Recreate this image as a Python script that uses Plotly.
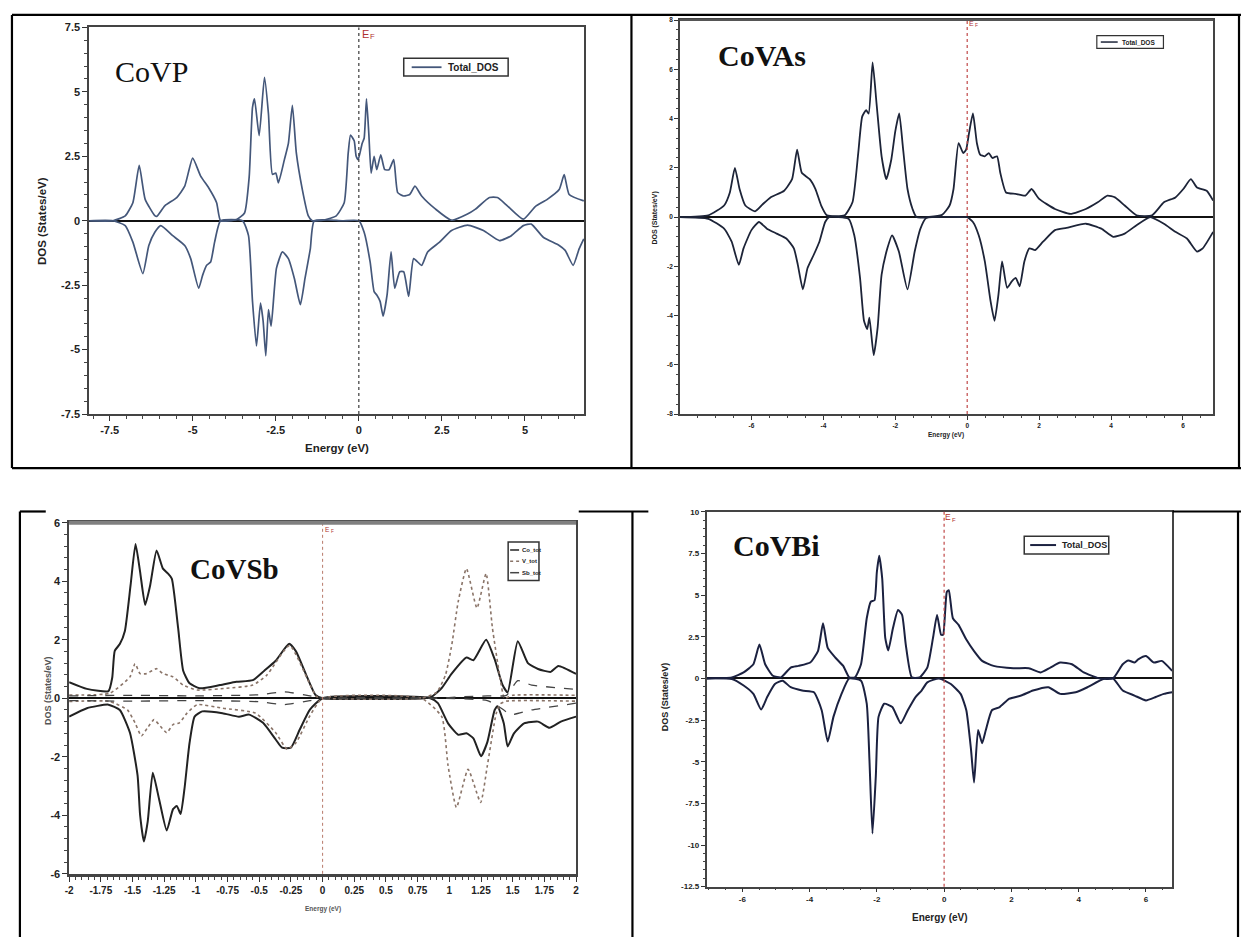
import plotly.graph_objects as go

W, H = 1244, 943

# ---------------- DATA ----------------
# Panel 1: CoVP
P1_UP_E = [-8.11, -7.4, -7.03, -6.8, -6.61, -6.43, -6.14, -6.08, -5.84, -5.48, -5.24, -5.0, -4.76, -4.52, -4.28, -4.16,
           -3.68, -3.44, -3.3, -3.2, -3.14, -3.0, -2.84, -2.72, -2.6, -2.5, -2.42, -2.24, -2.12, -2.0, -1.88, -1.7,
           -1.52, -1.4, -1.04, -0.68, -0.44, -0.32, -0.25, -0.14, -0.08, -0.02, 0.1, 0.16, 0.23, 0.3, 0.37, 0.46,
           0.54, 0.66, 0.78, 0.91, 1.05, 1.17, 1.35, 1.53, 1.69, 1.89, 2.31, 2.79, 3.27, 3.51, 3.93, 4.17, 4.47,
           4.95, 5.31, 5.67, 6.03, 6.18, 6.33, 6.77]
P1_UP_DOS = [0, 0.0, 0.19, 0.7, 2.15, 0.83, 0.2, 0.17, 0.58, 0.9, 1.34, 2.43, 1.73, 1.28, 0.7, 0.0,
             0.05, 0.3, 1.7, 4.4, 4.73, 3.3, 5.56, 4.15, 1.8, 1.85, 1.47, 2.37, 3.0, 4.48, 2.62, 1.21,
             0.19, 0.0, 0.03, 0.19, 0.7, 2.62, 3.32, 3.1, 2.5, 2.37, 3.0, 3.2, 4.73, 3.39, 1.85, 2.5,
             1.98, 2.56, 1.98, 1.98, 2.37, 1.09, 0.96, 1.02, 1.34, 0.96, 0.45, 0.02, 0.26, 0.45, 0.9, 0.9, 0.58,
             0.06, 0.55, 0.83, 1.21, 1.79, 1.02, 0.77]
P1_DN_E = [-8.11, -7.4, -7.03, -6.8, -6.5, -6.32, -6.14, -5.96, -5.6, -5.24, -5.06, -4.82, -4.7, -4.58, -4.46, -4.34,
           -4.16, -3.5, -3.32, -3.2, -3.08, -2.96, -2.88, -2.8, -2.72, -2.64, -2.48, -2.3, -2.12, -1.94, -1.76,
           -1.62, -1.46, -1.34, -0.5, 0.0, 0.16, 0.34, 0.46, 0.54, 0.64, 0.73, 0.85, 0.97, 1.08, 1.23, 1.35, 1.5,
           1.65, 1.89, 2.07, 2.43, 2.79, 3.27, 3.75, 4.23, 4.59, 4.95, 5.19, 5.55, 6.03, 6.21, 6.45, 6.63, 6.77]
P1_DN_DOS = [0, 0, -0.19, -0.83, -2.05, -0.96, -0.45, -0.19, -0.58, -0.96, -1.47, -2.62, -2.11, -1.73, -1.6, -0.83,
             0, 0, -0.58, -3.13, -4.86, -3.2, -3.9, -5.24, -3.45, -4.09, -1.85, -1.21, -1.47, -2.24, -3.26,
             -2.24, -1.09, 0, 0, 0, -0.45, -1.6, -2.75, -2.88, -3.13, -3.7, -2.88, -1.21, -2.62, -1.98, -1.98, -2.94,
             -1.47, -1.73, -1.21, -0.83, -0.38, -0.17, -0.38, -0.77, -0.58, -0.19, -0.13, -0.64, -0.96, -1.15, -1.73, -1.09, -0.7]

# Panel 2: CoVAs
P2_UP_E = [-7.99, -7.2, -6.76, -6.6, -6.46, -6.33, -6.17, -5.9, -5.68, -5.47, -5.09, -4.87, -4.73, -4.6, -4.38, -4.22,
           -4.06, -3.9, -3.41, -3.19, -3.03, -2.92, -2.81, -2.74, -2.63, -2.52, -2.38, -2.25, -2.11, -2.0, -1.89,
           -1.79, -1.66, -1.52, -1.41, -0.7, -0.49, -0.38, -0.24, -0.11, -0.03, 0.05, 0.16, 0.27, 0.36, 0.49, 0.6,
           0.7, 0.83, 0.92, 1.08, 1.35, 1.62, 1.79, 2.0, 2.44, 2.87, 3.3, 3.63, 3.9, 4.11, 4.38, 4.71, 5.14, 5.47,
           5.79, 6.01, 6.22, 6.39, 6.66, 6.84]
P2_UP_DOS = [0.0, 0.07, 0.47, 1.0, 2.0, 1.14, 0.47, 0.23, 0.53, 0.8, 1.07, 1.54, 2.74, 1.8, 1.54, 1.14,
             0.47, 0.07, 0.07, 0.6, 2.6, 4.08, 4.34, 4.2, 6.28, 4.6, 2.47, 1.54, 2.34, 3.48, 4.21,
             2.87, 1.14, 0.33, 0.0, 0.09, 0.47, 1.14, 3.0, 2.6, 2.74, 3.4, 4.21, 3.0, 2.54, 2.47, 2.6,
             2.4, 2.47, 1.8, 1.0, 0.94, 0.87, 1.14, 0.74, 0.33, 0.13, 0.33, 0.6, 0.87, 0.8, 0.47, 0.07, 0.07, 0.6,
             0.8, 1.14, 1.54, 1.2, 1.07, 0.67]
P2_DN_E = [-7.99, -7.2, -6.76, -6.55, -6.35, -6.22, -6.0, -5.79, -5.57, -5.3, -5.03, -4.82, -4.71, -4.57, -4.44, -4.27,
           -4.11, -3.95, -3.84, -3.3, -3.14, -2.98, -2.87, -2.78, -2.72, -2.6, -2.49, -2.38, -2.22, -2.09, -1.9,
           -1.66, -1.46, -1.3, -1.14, -0.1, 0.0, 0.16, 0.32, 0.49, 0.65, 0.76, 0.87, 0.97, 1.11, 1.24, 1.35, 1.46,
           1.59, 1.73, 1.89, 2.11, 2.44, 2.76, 3.3, 3.73, 4.06, 4.38, 4.71, 5.09, 5.47, 5.79, 6.11, 6.39, 6.55, 6.84]
P2_DN_DOS = [0.0, -0.07, -0.47, -1.0, -1.94, -1.27, -0.53, -0.2, -0.47, -0.67, -0.87, -1.27, -1.94, -2.94, -2.07, -1.54,
             -1.0, -0.2, 0.0, -0.07, -0.74, -2.47, -4.21, -4.55, -4.08, -5.61, -4.48, -2.34, -1.27, -0.74, -1.4,
             -2.94, -1.4, -0.47, -0.04, 0.0, 0.0, -0.2, -0.74, -1.8, -3.41, -4.21, -3.14, -1.8, -2.87, -2.61, -2.47, -2.81,
             -1.8, -1.27, -1.34, -1.0, -0.53, -0.44, -0.27, -0.47, -0.8, -0.67, -0.33, 0.0, -0.27, -0.6, -0.87, -1.4, -1.27, -0.6]

# Panel 3: CoVSb (three species, spin up / spin down)
P3_CO_UP_E = [-2.0, -1.86, -1.69, -1.66, -1.64, -1.6, -1.56, -1.515, -1.476, -1.44, -1.4, -1.36, -1.31, -1.26, -1.22,
              -1.19, -1.14, -1.1, -1.05, -0.97, -0.81, -0.68, -0.55, -0.46, -0.37, -0.264, -0.21, -0.13, -0.056, 0.0,
              0.8, 0.86, 0.94, 1.017, 1.135, 1.19, 1.29, 1.36, 1.42, 1.46, 1.54, 1.62, 1.7, 1.8, 1.86, 2.0]
P3_CO_UP_DOS = [0.55, 0.32, 0.24, 0.7, 1.62, 1.85, 2.3, 3.87, 5.27, 4.32, 3.19, 3.87, 5.05, 4.43, 4.26,
                4.09, 2.4, 0.94, 0.51, 0.34, 0.45, 0.56, 0.62, 0.94, 1.28, 1.86, 1.6, 0.8, 0.11, 0.0,
                0.0, 0.05, 0.35, 0.83, 1.39, 1.3, 2.0, 1.3, 0.45, 0.2, 1.95, 1.2, 1.0, 0.9, 1.1, 0.83]
P3_CO_DN_E = [-2.0, -1.86, -1.69, -1.6, -1.52, -1.46, -1.44, -1.41, -1.38, -1.34, -1.29, -1.23, -1.18, -1.15, -1.12,
              -1.09, -1.05, -1.01, -0.95, -0.79, -0.66, -0.58, -0.47, -0.37, -0.32, -0.25, -0.18, -0.1, 0.0,
              0.85, 0.91, 0.99, 1.07, 1.135, 1.19, 1.25, 1.3, 1.357, 1.38, 1.43, 1.46, 1.51, 1.59, 1.7, 1.79, 1.88, 2.0]
P3_CO_DN_DOS = [-0.63, -0.34, -0.22, -0.4, -1.18, -2.64, -3.99, -4.9, -4.22, -2.55, -3.45, -4.52, -3.79, -3.68, -3.96,
                -3.1, -1.53, -0.63, -0.45, -0.51, -0.63, -0.56, -0.84, -1.41, -1.69, -1.69, -1.07, -0.39, 0.0,
                0.0, -0.17, -0.86, -1.25, -1.2, -1.37, -1.98, -1.5, -0.41, -0.27, -0.86, -1.65, -1.2, -0.86, -0.8, -1.01, -0.8, -0.63]
P3_V_UP_E = [-2.0, -1.68, -1.52, -1.48, -1.44, -1.39, -1.31, -1.26, -1.18, -1.1, -0.99, -0.76, -0.55, -0.44, -0.26,
             -0.05, 0.0, 0.78, 0.9, 0.97, 1.02, 1.07, 1.135, 1.218, 1.29, 1.34, 1.4, 1.435, 1.5, 2.0]
P3_V_UP_DOS = [0.11, 0.17, 0.73, 1.18, 0.84, 0.84, 1.01, 0.84, 0.73, 0.45, 0.28, 0.34, 0.45, 0.79, 1.8,
               0.06, 0.0, 0.0, 0.2, 0.8, 1.84, 3.3, 4.43, 3.08, 4.26, 2.4, 0.7, 0.0, 0.1, 0.1]
P3_V_DN_E = [-2.0, -1.68, -1.54, -1.48, -1.43, -1.38, -1.33, -1.28, -1.23, -1.18, -1.13, -1.07, -0.99, -0.79, -0.53,
             -0.37, -0.28, -0.21, -0.1, 0.0, 0.78, 0.94, 0.99, 1.056, 1.148, 1.247, 1.3, 1.37, 1.4, 1.45, 2.0]
P3_V_DN_DOS = [-0.11, -0.11, -0.4, -0.84, -1.29, -1.0, -0.73, -0.96, -1.18, -0.9, -0.84, -0.51, -0.22, -0.34, -0.51,
               -1.18, -1.74, -1.52, -0.6, 0.0, 0.0, -0.63, -2.3, -3.73, -2.43, -3.56, -2.3, -0.52, -0.2, -0.1, -0.1]
P3_SB_UP_E = [-2.0, -1.5, -1.0, -0.5, -0.3, -0.1, 0.0, 0.9, 1.1, 1.3, 1.45, 1.54, 1.65, 2.0]
P3_SB_UP_DOS = [0.08, 0.1, 0.08, 0.12, 0.22, 0.08, 0.0, 0.0, 0.05, 0.08, 0.1, 0.6, 0.45, 0.3]
P3_SB_DN_E = [-2.0, -1.5, -1.0, -0.5, -0.3, -0.1, 0.0, 0.9, 1.3, 1.43, 1.48, 1.65, 2.0]
P3_SB_DN_DOS = [-0.08, -0.1, -0.08, -0.12, -0.22, -0.08, 0.0, 0.0, -0.08, -0.4, -0.57, -0.4, -0.17]

# Panel 4: CoVBi
P4_UP_E = [-7.06, -6.31, -5.96, -5.67, -5.49, -5.32, -5.09, -4.85, -4.56, -4.33, -3.98, -3.75, -3.6, -3.46, -3.23, -3.0,
           -2.82, -2.65, -2.47, -2.3, -2.18, -2.07, -2.0, -1.93, -1.84, -1.75, -1.66, -1.52, -1.37, -1.25, -1.14,
           -0.96, -0.73, -0.5, -0.33, -0.21, -0.09, -0.03, 0.08, 0.14, 0.26, 0.43, 0.66, 0.89, 1.13, 1.47, 2.06, 2.52,
           2.87, 3.16, 3.45, 3.8, 4.15, 4.61, 5.02, 5.31, 5.48, 5.66, 5.77, 6.0, 6.24, 6.47, 6.78]
P4_UP_DOS = [0.0, 0.06, 0.36, 0.85, 2.03, 0.85, 0.16, 0.06, 0.65, 0.75, 0.95, 1.64, 3.31, 1.83, 1.24, 0.75,
             0.06, 0.06, 0.85, 3.61, 4.6, 4.69, 6.37, 7.36, 5.98, 2.43, 1.68, 3.02, 4.1, 3.81, 2.03,
             0.06, 0.06, 0.65, 2.43, 3.81, 2.62, 2.62, 5.19, 5.29, 3.61, 3.21, 2.33, 1.64, 1.05, 0.75, 0.61, 0.61,
             0.36, 0.65, 0.95, 0.85, 0.36, 0.0, 0.0, 0.85, 1.08, 0.95, 1.14, 1.34, 0.95, 1.05, 0.45]
P4_DN_E = [-7.06, -6.31, -5.96, -5.67, -5.44, -5.26, -5.03, -4.8, -4.56, -4.22, -3.87, -3.64, -3.46, -3.29, -3.05, -2.82,
           -2.47, -2.3, -2.22, -2.13, -2.03, -1.95, -1.78, -1.54, -1.29, -1.08, -0.85, -0.67, -0.5, -0.15, 0.2, 0.49,
           0.66, 0.8, 0.89, 1.01, 1.13, 1.24, 1.42, 1.65, 1.94, 2.29, 2.64, 3.1, 3.45, 3.91, 4.26, 4.73, 5.02, 5.31,
           5.66, 6.0, 6.29, 6.53, 6.78]
P4_DN_DOS = [0.0, -0.04, -0.43, -0.93, -1.87, -1.12, -0.34, -0.14, -0.53, -0.73, -0.83, -1.91, -3.79, -2.31, -0.93, 0.0,
             -0.14, -1.52, -4.87, -9.31, -5.86, -2.31, -1.52, -1.72, -2.7, -1.91, -1.12, -0.73, -0.24, 0.0, -0.34, -0.93,
             -1.91, -4.28, -6.25, -3.1, -3.89, -3.1, -1.91, -1.72, -1.22, -1.03, -0.73, -0.53, -0.93, -0.83, -0.53, -0.04, 0.0, -0.73,
             -1.03, -1.32, -1.12, -0.93, -0.83]

# Tick labels
P1_XTICKS = [-7.5, -5, -2.5, 0, 2.5, 5]
P1_XTEXT = ["-7.5", "-5", "-2.5", "0", "2.5", "5"]
P1_YTICKS = [-7.5, -5, -2.5, 0, 2.5, 5, 7.5]
P1_YTEXT = ["-7.5", "-5", "-2.5", "0", "2.5", "5", "7.5"]
P2_XTICKS = [-6, -4, -2, 0, 2, 4, 6]
P2_XTEXT = ["-6", "-4", "-2", "0", "2", "4", "6"]
P2_YTICKS = [-8, -6, -4, -2, 0, 2, 4, 6, 8]
P2_YTEXT = ["-8", "-6", "-4", "-2", "0", "2", "4", "6", "8"]
P3_XTICKS = [-2, -1.75, -1.5, -1.25, -1, -0.75, -0.5, -0.25, 0, 0.25, 0.5, 0.75, 1, 1.25, 1.5, 1.75, 2]
P3_XTEXT = ["-2", "-1.75", "-1.5", "-1.25", "-1", "-0.75", "-0.5", "-0.25", "0", "0.25", "0.5", "0.75", "1",
            "1.25", "1.5", "1.75", "2"]
P3_YTICKS = [-6, -4, -2, 0, 2, 4, 6]
P3_YTEXT = ["-6", "-4", "-2", "0", "2", "4", "6"]
P4_XTICKS = [-6, -4, -2, 0, 2, 4, 6]
P4_XTEXT = ["-6", "-4", "-2", "0", "2", "4", "6"]
P4_YTICKS = [-12.5, -10, -7.5, -5, -2.5, 0, 2.5, 5, 7.5, 10]
P4_YTEXT = ["-12.5", "-10", "-7.5", "-5", "-2.5", "0", "2.5", "5", "7.5", "10"]

TITLES = ["CoVP", "CoVAs", "CoVSb", "CoVBi"]
Y_TITLE = "DOS (States/eV)"
X_TITLE = "Energy (eV)"
LEG_TOTAL = "Total_DOS"
LEG_P3 = ["Co_tot", "V_tot", "Sb_tot"]

# ---------------- helpers ----------------
def px(x):
    return x / W

def py(y):
    return 1 - y / H

NARROW = "Liberation Sans Narrow, Arial Narrow, Liberation Sans, sans-serif"
SERIF = "Liberation Serif, Times New Roman, serif"

fig = go.Figure()

def add_line(x, y, xa, ya, color, width, name, dash="solid", smooth=0.5):
    fig.add_trace(go.Scatter(x=x, y=y, mode="lines", xaxis=xa, yaxis=ya, name=name,
                             line=dict(color=color, width=width, dash=dash, shape="spline", smoothing=smooth),
                             showlegend=False, hoverinfo="skip"))

C1 = "#44577a"
C2 = "#1d2438"
C4 = "#1b2140"
CO_C, V_C, SB_C = "#222222", "#8a7468", "#444444"
add_line(P1_UP_E, P1_UP_DOS, "x", "y", C1, 1.7, LEG_TOTAL)
add_line(P1_DN_E, P1_DN_DOS, "x", "y", C1, 1.7, LEG_TOTAL)
add_line(P2_UP_E, P2_UP_DOS, "x2", "y2", C2, 1.8, LEG_TOTAL)
add_line(P2_DN_E, P2_DN_DOS, "x2", "y2", C2, 1.8, LEG_TOTAL)
add_line(P3_CO_UP_E, P3_CO_UP_DOS, "x3", "y3", CO_C, 2.0, LEG_P3[0])
add_line(P3_CO_DN_E, P3_CO_DN_DOS, "x3", "y3", CO_C, 2.0, LEG_P3[0])
add_line(P3_V_UP_E, P3_V_UP_DOS, "x3", "y3", V_C, 1.6, LEG_P3[1], dash="dot")
add_line(P3_V_DN_E, P3_V_DN_DOS, "x3", "y3", V_C, 1.6, LEG_P3[1], dash="dot")
add_line(P3_SB_UP_E, P3_SB_UP_DOS, "x3", "y3", SB_C, 1.3, LEG_P3[2], dash="dash")
add_line(P3_SB_DN_E, P3_SB_DN_DOS, "x3", "y3", SB_C, 1.3, LEG_P3[2], dash="dash")
add_line(P4_UP_E, P4_UP_DOS, "x4", "y4", C4, 2.0, LEG_TOTAL)
add_line(P4_DN_E, P4_DN_DOS, "x4", "y4", C4, 2.0, LEG_TOTAL)

def axis(domain, rng, tickvals, ticktext, size, minor_dt, anchor, linecolor="#444", lw=1.5,
         zeroline=False, ticklen=5):
    return dict(domain=domain, range=rng, tickmode="array", tickvals=tickvals, ticktext=ticktext,
                ticks="outside", ticklen=ticklen, tickwidth=1.2, tickcolor="#333",
                minor=dict(dtick=minor_dt, tick0=0, ticks="outside", ticklen=max(2, ticklen - 2),
                           tickcolor="#444", tickwidth=1),
                showline=True, linecolor=linecolor, linewidth=lw, mirror=True,
                showgrid=False, zeroline=zeroline, zerolinecolor="#111", zerolinewidth=2,
                tickfont=dict(family=NARROW, size=size, color="#222", weight="bold"),
                anchor=anchor, fixedrange=True)

# panel plot areas (pixels)
P1 = (85.5, 583.4, 21.7, 413.3)
P2 = (679.7, 1216.0, 14.3, 413.3)
P3 = (65.5, 575.3, 523.3, 879.0)
P4 = (706.6, 1174.8, 512.3, 892.0)

def xd(p):
    return [px(p[0]), px(p[1])]

def yd(p):
    return [py(p[3]), py(p[2])]

fig.update_layout(
    width=W, height=H, autosize=False,
    margin=dict(l=0, r=0, t=0, b=0),
    paper_bgcolor="white", plot_bgcolor="white", showlegend=False,
    xaxis=axis(xd(P1), [-8.12, 6.78], P1_XTICKS, P1_XTEXT, 11, 0.5, "y"),
    yaxis=axis(yd(P1), [-7.5, 7.5], P1_YTICKS, P1_YTEXT, 11, 0.5, "x", zeroline=True),
    xaxis2=axis(xd(P2), [-7.99, 6.84], P2_XTICKS, P2_XTEXT, 6.5, 0.5, "y2", ticklen=4),
    yaxis2=axis(yd(P2), [-8, 8], P2_YTICKS, P2_YTEXT, 6.5, 0.4, "x2", zeroline=True, ticklen=4),
    xaxis3=axis(xd(P3), [-2, 2], P3_XTICKS, P3_XTEXT, 10, 0.05, "y3", lw=2.5),
    yaxis3=axis(yd(P3), [-6, 6], P3_YTICKS, P3_YTEXT, 11, 0.4, "x3", zeroline=True),
    xaxis4=axis(xd(P4), [-7.06, 6.78], P4_XTICKS, P4_XTEXT, 8, 0.5, "y4", ticklen=4),
    yaxis4=axis(yd(P4), [-12.5, 10], P4_YTICKS, P4_YTEXT, 8, 0.5, "x4", zeroline=True, ticklen=4),
)

shapes = []
ann = []

# Fermi level lines
for xa, ya, col, dash, w in [("x", "y", "#3a3a3a", "3px,3px", 1.2), ("x2", "y2", "#c04848", "dot", 1.2),
                             ("x3", "y3", "#b87a6a", "dot", 1.0), ("x4", "y4", "#c04848", "dot", 1.2)]:
    shapes.append(dict(type="line", xref=xa, yref=ya + " domain", x0=0, x1=0, y0=0, y1=1,
                       line=dict(color=col, width=w, dash=dash)))
# heavier top frames
shapes.append(dict(type="line", xref="x3 domain", yref="y3 domain", x0=0, x1=1, y0=1, y1=1,
                   line=dict(color="#808080", width=4)))
shapes.append(dict(type="line", xref="x2 domain", yref="y2 domain", x0=0, x1=1, y0=1, y1=1,
                   line=dict(color="#555", width=2)))

def seg(x0, y0, x1, y1, w=2.2, color="black", dash="solid"):
    shapes.append(dict(type="line", xref="paper", yref="paper", x0=px(x0), y0=py(y0), x1=px(x1), y1=py(y1),
                       line=dict(color=color, width=w, dash=dash)))

def rect(x0, y0, x1, y1, w=1.5):
    shapes.append(dict(type="rect", xref="paper", yref="paper", x0=px(x0), y0=py(y1), x1=px(x1), y1=py(y0),
                       line=dict(color="#333", width=w), fillcolor="white"))

def text(x, y, s, size, family=NARROW, color="#222", bold=False, angle=0, anchor="center"):
    ann.append(dict(x=px(x), y=py(y), xref="paper", yref="paper", text=s, showarrow=False,
                    textangle=angle, xanchor=anchor, yanchor="middle",
                    font=dict(family=family, size=size, color=color, weight="bold" if bold else "normal")))

# table borders
seg(8, 9, 1244, 9)
seg(8, 468, 1244, 468)
seg(8, 9, 8, 468)
seg(631, 9, 631, 468)
seg(1242, 9, 1242, 468)
seg(16, 512, 42, 512)
seg(578, 512, 648, 512)
seg(1175, 512, 1244, 512)
seg(16, 512, 16, 943)
seg(632, 512, 632, 943)
seg(1241, 512, 1241, 943)

# legends (drawn as boxed keys)
rect(402, 53, 507, 71)
seg(410, 62, 440, 62, w=1.8, color=C1)
text(444, 62, LEG_TOTAL, 10, bold=True, anchor="left")

rect(1099, 30, 1166, 43, w=1.2)
seg(1103, 36.5, 1120, 36.5, w=1.5, color=C2)
text(1122, 36.5, LEG_TOTAL, 6.5, bold=True, anchor="left")

rect(507, 543, 538, 582, w=1.5)
for i, (nm, col, dsh) in enumerate(zip(LEG_P3, [CO_C, V_C, SB_C], ["solid", "dot", "dash"])):
    yy = 551 + i * 11.5
    seg(509, yy, 518, yy, w=1.5, color=col, dash=dsh)
    text(519, yy, nm, 6, bold=True, anchor="left")

rect(1026, 537, 1111, 555)
seg(1032, 546, 1058, 546, w=2, color=C4)
text(1062, 546, LEG_TOTAL, 9, bold=True, anchor="left")

# panel titles
text(148.5, 66, TITLES[0], 30, family=SERIF, color="#111")
text(762.5, 50, TITLES[1], 30, family=SERIF, color="#111", bold=True)
text(232, 570, TITLES[2], 29, family=SERIF, color="#111", bold=True)
text(776.5, 546, TITLES[3], 30, family=SERIF, color="#111", bold=True)
# axis titles
text(38, 218, Y_TITLE, 11.5, bold=True, angle=-90)
text(335, 448, X_TITLE, 11.5, bold=True)
text(655, 215, Y_TITLE, 7, bold=True, angle=-90)
text(947, 435, X_TITLE, 6.5, bold=True)
text(44, 693, Y_TITLE, 9, bold=True, angle=-90, color="#555")
text(321, 915, X_TITLE, 6.5, bold=True, color="#555")
text(665, 700, Y_TITLE, 9, bold=True, angle=-90)
text(941, 923, X_TITLE, 10, bold=True)
# Fermi labels (E with subscript F)
RED = "#b03030"
for (x, y, s) in [(364, 28, 11), (973, 18, 7), (325, 530, 6.5), (949, 518, 8.5)]:
    text(x, y, "E", s, color=RED)
    text(x + s * 0.22, y + s * 0.3, "F", s * 0.7, color=RED, anchor="left")

fig.update_layout(shapes=shapes, annotations=ann)

fig.write_html("out.html", config={"displayModeBar": False},
               post_script="document.body.style.margin='0';document.body.style.overflow='hidden';")
